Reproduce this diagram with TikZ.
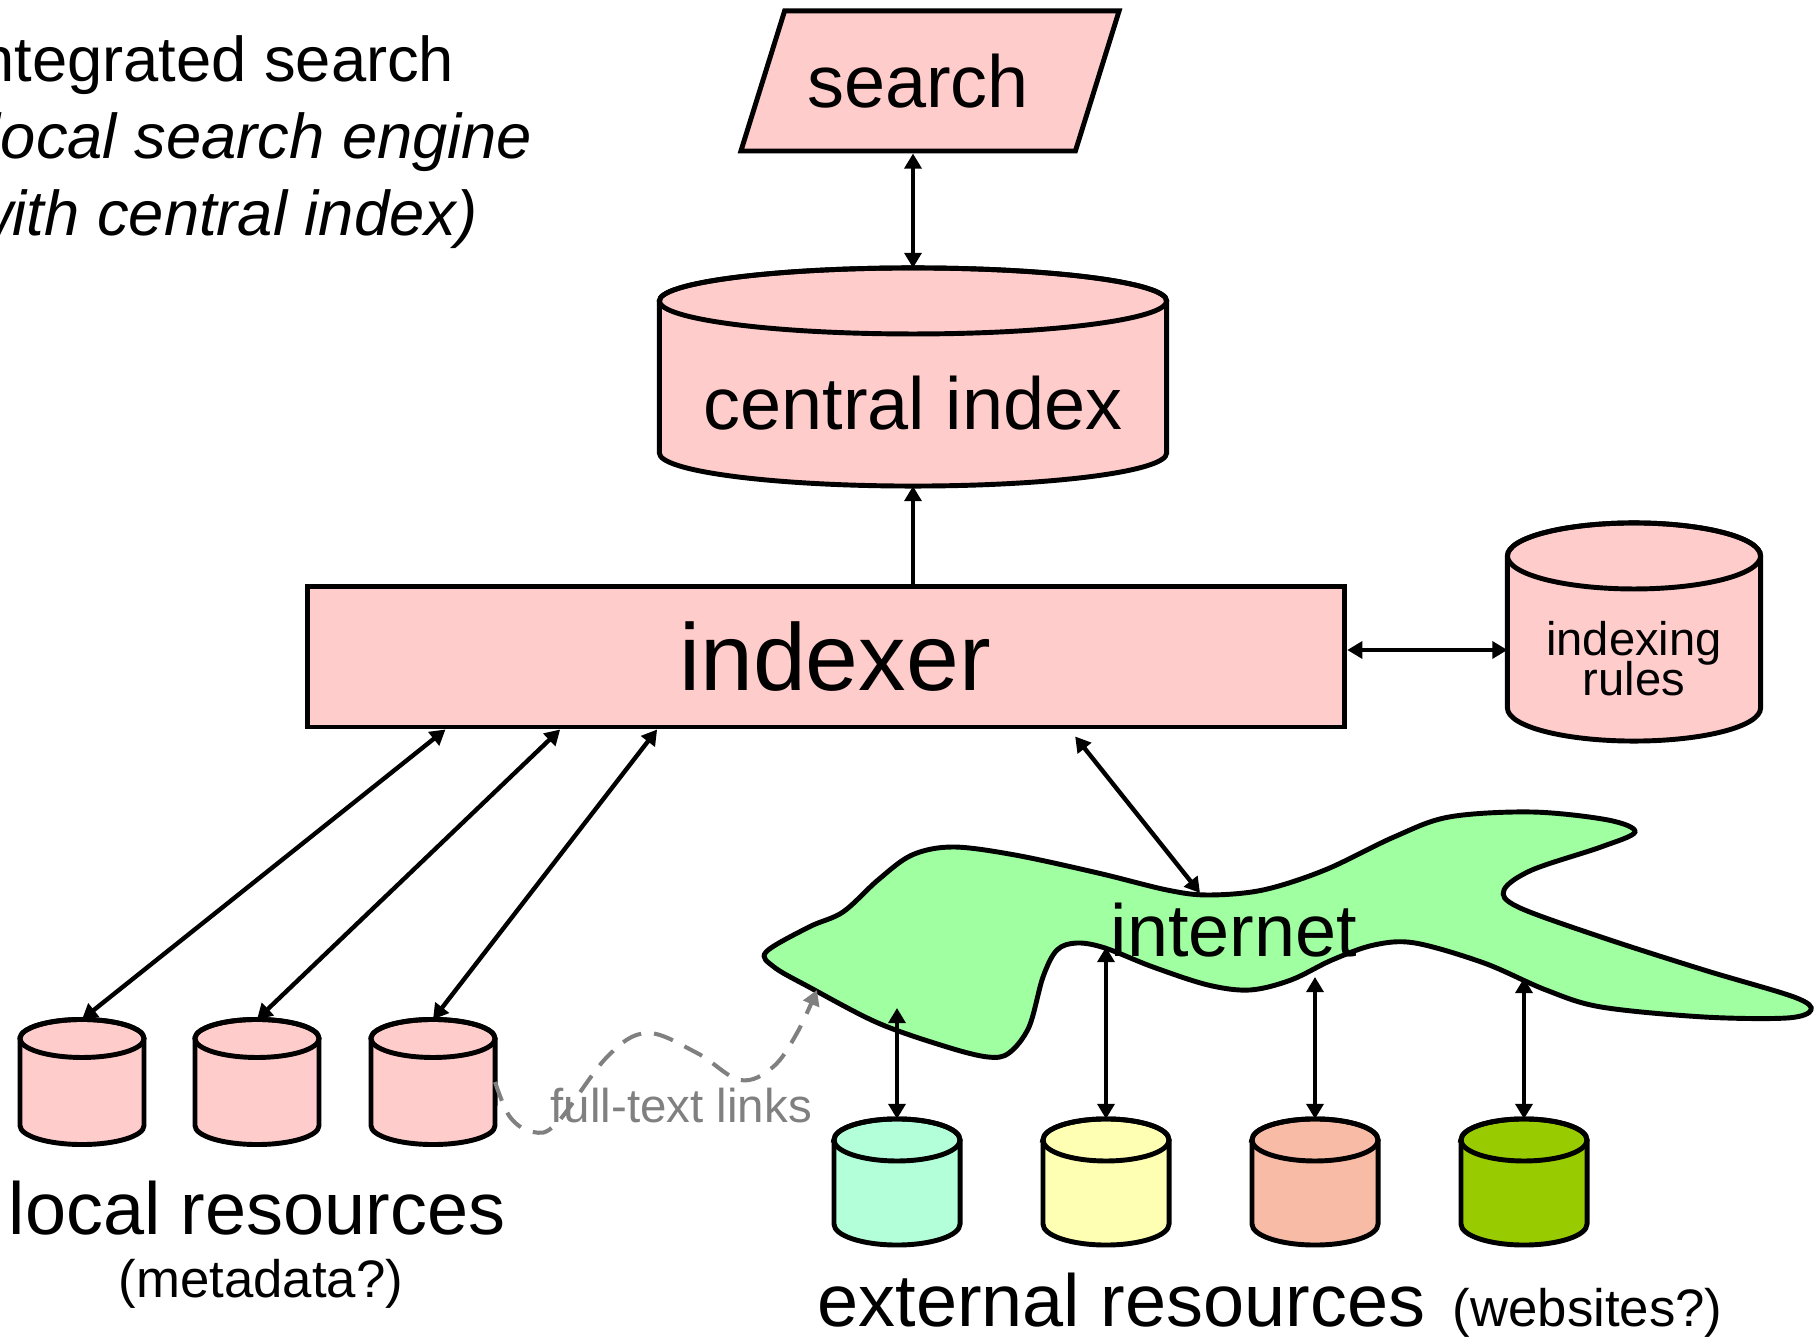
\documentclass[tikz,border=0pt]{standalone}
\usepackage{fontspec}
\setmainfont{Liberation Sans}
\usetikzlibrary{shapes.geometric,arrows.meta,calc}
\pgfdeclarelayer{bg}
\pgfsetlayers{bg,main}
\definecolor{pinkfill}{RGB}{255,204,204}
\definecolor{netgreen}{RGB}{160,255,160}
\definecolor{mint}{RGB}{179,255,217}
\definecolor{paleyellow}{RGB}{255,255,179}
\definecolor{salmon}{RGB}{248,187,165}
\definecolor{olive}{RGB}{153,204,0}
\definecolor{linkgray}{RGB}{128,128,128}
\newcommand{\tightlines}{\lineskiplimit=-20pt\relax\lineskip=0pt\relax}
% cylinder drawn round a named node: node, x radius, y radius, fill
\newcommand{\dbdraw}[4]{%
  \draw[line width=1.4pt,fill=#4] ([yshift=-#3]#1.north west) -- ([yshift=#3]#1.south west)
    arc[start angle=180,end angle=360,x radius=#2,y radius=#3]
    -- ([yshift=-#3]#1.north east)
    arc[start angle=0,end angle=180,x radius=#2,y radius=#3] -- cycle;
  \draw[line width=1.4pt] ([yshift=-#3]#1.north) ellipse[x radius=#2,y radius=#3];}
\begin{document}
\begin{tikzpicture}[x=0.01cm,y=-0.01cm,>={Triangle[length=4.3pt,width=4.8pt]},
    box/.style={draw,line width=1.4pt,fill=pinkfill},
    dbnode/.style={inner sep=0pt,outer sep=0pt},
    link/.style={line width=1.25pt,<->},
    uplink/.style={line width=1.25pt,->},
    big/.style={font=\fontsize{21pt}{25pt}\selectfont},
    small/.style={font=\fontsize{15pt}{18pt}\selectfont},
    txt/.style={inner sep=0pt}]
\path[use as bounding box,clip] (0,0) rectangle (1817,1340);

% title
\node[txt,anchor=base east,font=\fontsize{18pt}{22pt}\selectfont] (title1) at (455,82) {integrated search};
\node[txt,anchor=base east,font=\fontsize{18pt}{22pt}\selectfont\itshape] (title2) at (533,159) {(local search engine};
\node[txt,anchor=base east,font=\fontsize{18pt}{22pt}\selectfont\itshape] (title3) at (478,236) {(with central index)};

% main boxes
\node[box,trapezium,trapezium left angle=62.5,trapezium right angle=117.5,trapezium stretches=true,
    minimum width=3.8cm,minimum height=1.4cm,big] (search) at (930,81) {search\kern0.24cm};
\node[dbnode,minimum width=5.07cm,minimum height=2.18cm,text height=1.05cm,text depth=0cm,big] (cindex) at (913,377) {central index};
\node[box,minimum width=10.37cm,minimum height=1.40cm,font=\fontsize{27pt}{32pt}\selectfont] (indexer) at (826,657) {\hspace*{0.18cm}indexer};
\node[dbnode,minimum width=2.53cm,minimum height=2.18cm,text height=1.27cm,text depth=0cm,align=center,
    font=\fontsize{13.4pt}{11.3pt}\selectfont\tightlines] (rules) at (1634,632) {indexing\\rules};

% local resources
\node[dbnode,minimum width=1.24cm,minimum height=1.25cm] (loc1) at (82,1082) {};
\node[dbnode,minimum width=1.24cm,minimum height=1.25cm] (loc2) at (257,1082) {};
\node[dbnode,minimum width=1.24cm,minimum height=1.25cm] (loc3) at (433,1082) {};
\node[txt,big,anchor=base] (localres) at (257,1235) {local resources};
\node[txt,small,anchor=base] (metadata) at (261,1298) {(metadata?)};

% internet
\draw[line width=1.4pt,fill=netgreen] plot[smooth cycle,tension=0.55] coordinates {
    (766,952) (809,927) (843,912) (878,880) (912,855) (953,847) (1015,855) (1098,873)
    (1167,890) (1208,895) (1263,890) (1325,870) (1394,837) (1449,817) (1532,812)
    (1608,820) (1635,832) (1601,847) (1532,870) (1504,890) (1518,907) (1601,937)
    (1704,970) (1794,997) (1811,1010) (1787,1018) (1704,1017) (1601,1007) (1546,990)
    (1484,963) (1415,943) (1374,945) (1332,960) (1291,980) (1250,990) (1208,985)
    (1153,967) (1105,948) (1077,943) (1057,950) (1043,977) (1029,1027) (1009,1053)
    (988,1057) (947,1047) (878,1023) (809,987) (774,967)};
\node[txt,big,anchor=base] (internet) at (1234,957) {internet};
\coordinate (net0) at (1200,893);
\coordinate (net1) at (897,1008);
\coordinate (net2) at (1106,947);
\coordinate (net3) at (1315,977);
\coordinate (net4) at (1524,978);
\coordinate (netL) at (817,990);

% external resources
\node[dbnode,minimum width=1.26cm,minimum height=1.26cm] (ext1) at (897,1182) {};
\node[dbnode,minimum width=1.26cm,minimum height=1.26cm] (ext2) at (1106,1182) {};
\node[dbnode,minimum width=1.26cm,minimum height=1.26cm] (ext3) at (1315,1182) {};
\node[dbnode,minimum width=1.26cm,minimum height=1.26cm] (ext4) at (1524,1182) {};
\node[txt,big,anchor=base west] (extres) at (817,1327) {external resources};
\node[txt,small,anchor=base west] (websites) at (1452,1327) {(websites?)};

% cylinders
\begin{pgfonlayer}{bg}
\dbdraw{cindex}{2.535cm}{0.33cm}{pinkfill}
\dbdraw{rules}{1.265cm}{0.33cm}{pinkfill}
\foreach \n in {loc1,loc2,loc3} {\dbdraw{\n}{0.62cm}{0.19cm}{pinkfill}}
\foreach \n/\c in {ext1/mint,ext2/paleyellow,ext3/salmon,ext4/olive} {\dbdraw{\n}{0.63cm}{0.21cm}{\c}}
\end{pgfonlayer}

% connectors
\coordinate (ruleslink) at ($(indexer.east)+(0,-7)$);
\draw[link] (cindex.north |- search.south) -- (cindex.north);
\draw[uplink] (indexer.north -| cindex.south) -- (cindex.south);
\draw[link] (ruleslink) -- (ruleslink -| rules.west);
\draw[link] ($(indexer.south west)!0.135!(indexer.south east)$) -- (loc1.north);
\draw[link] ($(indexer.south west)!0.245!(indexer.south east)$) -- (loc2.north);
\draw[link] ($(indexer.south west)!0.338!(indexer.south east)$) -- (loc3.north);
\draw[link] ($(indexer.south west)!0.739!(indexer.south east)+(0,7)$) -- (net0);
\draw[link] (ext1.north) -- (net1);
\draw[link] (ext2.north) -- (net2);
\draw[link] (ext3.north) -- (net3);
\draw[link] (ext4.north) -- (net4);

% full-text links
\draw[linkgray,line width=1.15pt,dash pattern=on 5.7pt off 3.7pt,->]
    plot[smooth,tension=0.6] coordinates {(loc3.east) (510,1117) (533,1132) (557,1123)
    (607,1057) (647,1033) (697,1053) (740,1080) (773,1067) (797,1033) (netL)};
\node[txt,anchor=base west,text=linkgray,font=\fontsize{13.5pt}{16pt}\selectfont] (ftlinks) at (550,1123) {full-text links};
\end{tikzpicture}
\end{document}
